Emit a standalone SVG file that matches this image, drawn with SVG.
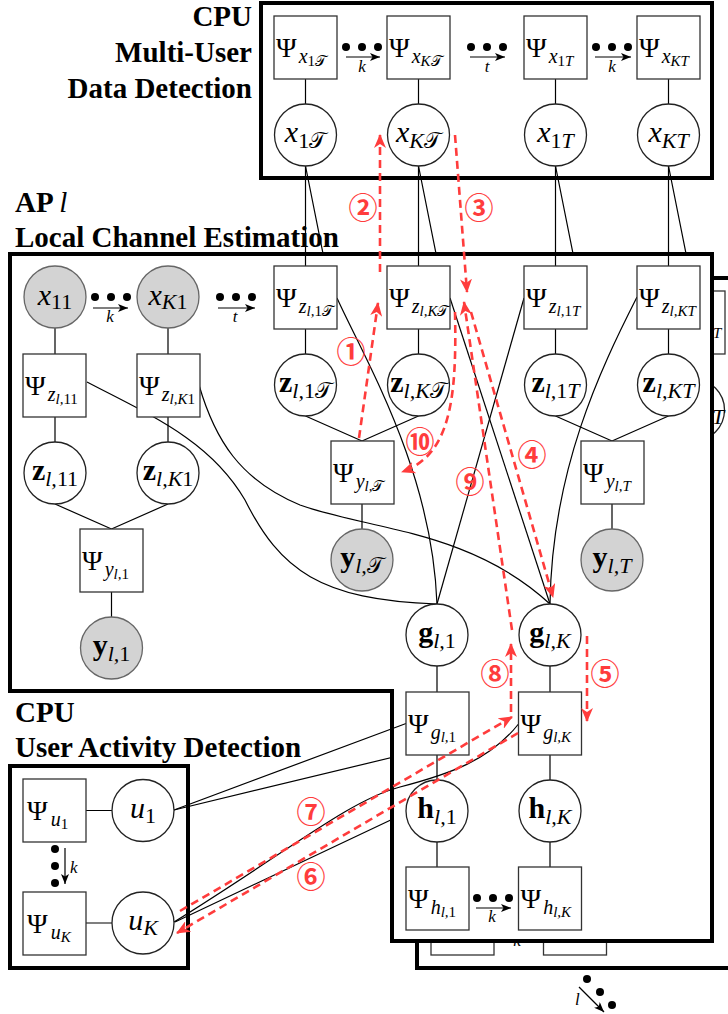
<svg xmlns="http://www.w3.org/2000/svg" width="728" height="1014" viewBox="0 0 728 1014">
<style>
.frame{fill:none;stroke:#000;stroke-width:4}
.apframe{fill:#fff;stroke:#000;stroke-width:4}
.fac{fill:#fff;stroke:#333;stroke-width:1.3}
.var{fill:#fff;stroke:#222;stroke-width:1.3}
.obs{fill:#d3d3d3;stroke:#666;stroke-width:1.3}
.ln{fill:none;stroke:#000;stroke-width:1.2}
.msg{fill:none;stroke:#ff3c3c;stroke-width:2.6;stroke-dasharray:8 5}
.t{font-family:'Liberation Serif','DejaVu Serif',serif;fill:#000}
.ttl{font-family:'Liberation Serif','DejaVu Serif',serif;font-weight:bold;font-size:29px;fill:#000}
.psi{font-size:28px}
.s1{font-size:20px;font-style:italic}
.s2{font-size:15px;font-style:italic}
.v{font-size:30px;font-style:italic}
.vb{font-size:30px;font-weight:bold}
.vs{font-size:22px;font-style:italic;font-weight:normal}
.al{font-size:17px;font-style:italic}
.up{font-style:normal}
.cal{font-style:normal;font-family:'DejaVu Serif','DejaVu Sans','Noto Sans',serif}
.num{font-family:'Noto Sans CJK JP','DejaVu Sans',sans-serif;font-size:29px;font-weight:bold;fill:#ff3c3c}
.dot{fill:#000}
</style>
<defs>
<marker id="ah" viewBox="0 0 10 8" refX="10" refY="4" markerWidth="10" markerHeight="8" markerUnits="userSpaceOnUse" orient="auto"><path d="M0,0 L10,4 L0,8 L2.5,4 Z" fill="#000"/></marker>
<marker id="ra" viewBox="0 0 14 12" refX="13" refY="6" markerWidth="14" markerHeight="12" markerUnits="userSpaceOnUse" orient="auto"><path d="M0,0 L14,6 L0,12 L4,6 Z" fill="#ff3c3c"/></marker>
</defs>

<!-- second AP plate (behind) -->
<g id="ap-behind">
<rect class="apframe" x="417" y="278" width="330" height="690"/>
<rect class="fac" x="662" y="291" width="63" height="63"/>
<text class="t s2" x="713" y="338">T</text>
<circle class="var" cx="693.5" cy="410" r="31"/>
<text class="t vs" x="712" y="424">T</text>
<rect class="fac" x="431" y="892" width="63" height="63"/>
<rect class="fac" x="543.5" y="892" width="63" height="63"/>
<text class="t al" x="517" y="946" text-anchor="middle">k</text>
</g>

<g id="connectors-behind">
<path class="ln" d="M305.5,166 L330.5,291 M418.5,166 L443.5,291 M555.5,166 L580.5,291 M668.5,166 L693.5,291"/>
<path class="ln" d="M174,810 L431,748 M175,922 L543,748"/>
</g>

<g id="ap-plate">
<polygon class="apframe" points="10,254 712,254 712,941 392,941 392,691 10,691"/>
<text class="ttl" x="15" y="212">AP <tspan font-style="italic" font-weight="normal">l</tspan></text>
<text class="ttl" x="15" y="247">Local Channel Estimation</text>
</g>

<g id="cpu-data-plate">
<rect class="frame" x="261" y="3" width="451" height="175"/>
<text class="ttl" x="252" y="26" text-anchor="end">CPU</text>
<text class="ttl" x="252" y="62" text-anchor="end">Multi-User</text>
<text class="ttl" x="252" y="98" text-anchor="end">Data Detection</text>
</g>

<g id="cpu-activity-plate">
<rect class="frame" x="10" y="766" width="178" height="202"/>
<text class="ttl" x="15" y="722">CPU</text>
<text class="ttl" x="15" y="757">User Activity Detection</text>
</g>

<g id="connectors">
<path class="ln" d="M305.5,79 V104 M418.5,79 V104 M555.5,79 V104 M668.5,79 V104"/>
<path class="ln" d="M305.5,166 V266 M418.5,166 V266 M555.5,166 V266 M668.5,166 V266"/>
<path class="ln" d="M305.5,329 V354 M418.5,329 V354 M555.5,329 V354 M668.5,329 V354"/>
<path class="ln" d="M55,328 V354 M168,328 V354 M55,416 V442 M168,416 V442"/>
<path class="ln" d="M55,504 L111.5,529 M168,504 L111.5,529 M111.5,592 V617"/>
<path class="ln" d="M305.5,416 L362,441 M418.5,416 L362,441 M362,504 V529"/>
<path class="ln" d="M555.5,416 L612,441 M668.5,416 L612,441 M612,504 V529"/>
<path class="ln" d="M87,382 C150,415 210,440 245,500 C280,570 320,600 437,604"/>
<path class="ln" d="M337,298 C365,360 432,470 437,604"/>
<path class="ln" d="M524,298 L437,604"/>
<path class="ln" d="M199,385 C215,440 240,480 300,505 C370,530 470,530 550,604"/>
<path class="ln" d="M450,298 L550,604"/>
<path class="ln" d="M637,297 C600,370 552,470 550,604"/>
<path class="ln" d="M437,666 V692 M550,666 V692 M437,755 V780 M550,755 V780 M437,842 V867 M550,842 V867"/>
<path class="ln" d="M86,810.5 H112 M86,923 H112"/>
<path class="ln" d="M174,810 L406,723.5"/>
<path class="ln" d="M174,922 C290,850 350,800 400,787 C450,774 490,760 518.5,724"/>
</g>

<g id="index-arrows">
<circle class="dot" cx="346" cy="47" r="4"/><circle class="dot" cx="362" cy="47" r="4"/><circle class="dot" cx="378" cy="47" r="4"/>
<path class="ln" d="M346,57 H380" marker-end="url(#ah)"/><text class="t al" x="362" y="72" text-anchor="middle">k</text>
<circle class="dot" cx="471" cy="47" r="4"/><circle class="dot" cx="487" cy="47" r="4"/><circle class="dot" cx="503" cy="47" r="4"/>
<path class="ln" d="M470,57 H505" marker-end="url(#ah)"/><text class="t al" x="487" y="72" text-anchor="middle">t</text>
<circle class="dot" cx="596" cy="47" r="4"/><circle class="dot" cx="612" cy="47" r="4"/><circle class="dot" cx="628" cy="47" r="4"/>
<path class="ln" d="M595,57 H631" marker-end="url(#ah)"/><text class="t al" x="612" y="72" text-anchor="middle">k</text>
<circle class="dot" cx="95" cy="297" r="4"/><circle class="dot" cx="111" cy="297" r="4"/><circle class="dot" cx="127" cy="297" r="4"/>
<path class="ln" d="M93,308 H128" marker-end="url(#ah)"/><text class="t al" x="110" y="322" text-anchor="middle">k</text>
<circle class="dot" cx="220" cy="297" r="4"/><circle class="dot" cx="236" cy="297" r="4"/><circle class="dot" cx="252" cy="297" r="4"/>
<path class="ln" d="M218,308 H255" marker-end="url(#ah)"/><text class="t al" x="235" y="322" text-anchor="middle">t</text>
<circle class="dot" cx="477" cy="898" r="4"/><circle class="dot" cx="493" cy="898" r="4"/><circle class="dot" cx="509" cy="898" r="4"/>
<path class="ln" d="M476,908 H511" marker-end="url(#ah)"/><text class="t al" x="492" y="922" text-anchor="middle">k</text>
<circle class="dot" cx="55" cy="849" r="4"/><circle class="dot" cx="55" cy="866" r="4"/><circle class="dot" cx="55" cy="883" r="4"/>
<path class="ln" d="M65,848 V884" marker-end="url(#ah)"/><text class="t al" x="70" y="873">k</text>
<circle class="dot" cx="587" cy="979" r="4"/><circle class="dot" cx="600" cy="992" r="4"/><circle class="dot" cx="612" cy="1005" r="4"/>
<path class="ln" d="M579,987 L604,1012" marker-end="url(#ah)"/><text class="t al" x="575" y="1005">l</text>
</g>

<!-- CPU data detection nodes -->
<g id="psi-x1c"><rect class="fac" x="274" y="16" width="63" height="63"/><text class="t psi" x="276" y="57">Ψ<tspan class="s1" dx="2" dy="6">x</tspan><tspan class="s2 up" dy="3">1</tspan><tspan class="s2 cal">𝒯</tspan></text></g>
<g id="psi-xKc"><rect class="fac" x="387" y="16" width="63" height="63"/><text class="t psi" x="389" y="57">Ψ<tspan class="s1" dx="2" dy="6">x</tspan><tspan class="s2" dy="3">K</tspan><tspan class="s2 cal">𝒯</tspan></text></g>
<g id="psi-x1T"><rect class="fac" x="524" y="16" width="63" height="63"/><text class="t psi" x="526" y="57">Ψ<tspan class="s1" dx="2" dy="6">x</tspan><tspan class="s2 up" dy="3">1</tspan><tspan class="s2">T</tspan></text></g>
<g id="psi-xKT"><rect class="fac" x="637" y="16" width="63" height="63"/><text class="t psi" x="639" y="57">Ψ<tspan class="s1" dx="2" dy="6">x</tspan><tspan class="s2" dy="3">KT</tspan></text></g>
<g id="x1c"><circle class="var" cx="305.5" cy="135" r="31"/><text class="t v" x="305.5" y="142" text-anchor="middle">x<tspan class="vs up" dy="6">1</tspan><tspan class="vs cal">𝒯</tspan></text></g>
<g id="xKc"><circle class="var" cx="418.5" cy="135" r="31"/><text class="t v" x="418.5" y="142" text-anchor="middle">x<tspan class="vs" dy="6">K</tspan><tspan class="vs cal">𝒯</tspan></text></g>
<g id="x1T"><circle class="var" cx="555.5" cy="135" r="31"/><text class="t v" x="555.5" y="142" text-anchor="middle">x<tspan class="vs up" dy="6">1</tspan><tspan class="vs">T</tspan></text></g>
<g id="xKT"><circle class="var" cx="668.5" cy="135" r="31"/><text class="t v" x="668.5" y="142" text-anchor="middle">x<tspan class="vs" dy="6">KT</tspan></text></g>

<!-- AP nodes -->
<g id="x11"><circle class="obs" cx="55" cy="297" r="31"/><text class="t v" x="55" y="305" text-anchor="middle">x<tspan class="vs up" dy="4">11</tspan></text></g>
<g id="xK1"><circle class="obs" cx="168" cy="297" r="31"/><text class="t v" x="168" y="305" text-anchor="middle">x<tspan class="vs" dy="4">K</tspan><tspan class="vs up">1</tspan></text></g>
<g id="psi-zl1c"><rect class="fac" x="274" y="266" width="63" height="63"/><text class="t psi" x="276" y="307">Ψ<tspan class="s1" dx="2" dy="6">z</tspan><tspan class="s2" dy="3">l,</tspan><tspan class="s2 up">1</tspan><tspan class="s2 cal">𝒯</tspan></text></g>
<g id="psi-zlKc"><rect class="fac" x="387" y="266" width="63" height="63"/><text class="t psi" x="389" y="307">Ψ<tspan class="s1" dx="2" dy="6">z</tspan><tspan class="s2" dy="3">l,K</tspan><tspan class="s2 cal">𝒯</tspan></text></g>
<g id="psi-zl1T"><rect class="fac" x="524" y="266" width="63" height="63"/><text class="t psi" x="526" y="307">Ψ<tspan class="s1" dx="2" dy="6">z</tspan><tspan class="s2" dy="3">l,</tspan><tspan class="s2 up">1</tspan><tspan class="s2">T</tspan></text></g>
<g id="psi-zlKT"><rect class="fac" x="637" y="266" width="63" height="63"/><text class="t psi" x="639" y="307">Ψ<tspan class="s1" dx="2" dy="6">z</tspan><tspan class="s2" dy="3">l,KT</tspan></text></g>
<g id="psi-zl11"><rect class="fac" x="23" y="354" width="63" height="63"/><text class="t psi" x="25" y="395">Ψ<tspan class="s1" dx="2" dy="6">z</tspan><tspan class="s2" dy="3">l,</tspan><tspan class="s2 up">11</tspan></text></g>
<g id="psi-zlK1"><rect class="fac" x="137" y="354" width="63" height="63"/><text class="t psi" x="139" y="395">Ψ<tspan class="s1" dx="2" dy="6">z</tspan><tspan class="s2" dy="3">l,K</tspan><tspan class="s2 up">1</tspan></text></g>
<g id="zl1c"><circle class="var" cx="305.5" cy="385" r="31"/><text class="t vb" x="305.5" y="392" text-anchor="middle">z<tspan class="vs" dy="6">l,</tspan><tspan class="vs up">1</tspan><tspan class="vs cal">𝒯</tspan></text></g>
<g id="zlKc"><circle class="var" cx="418.5" cy="385" r="31"/><text class="t vb" x="418.5" y="392" text-anchor="middle">z<tspan class="vs" dy="6">l,K</tspan><tspan class="vs cal">𝒯</tspan></text></g>
<g id="zl1T"><circle class="var" cx="555.5" cy="385" r="31"/><text class="t vb" x="555.5" y="392" text-anchor="middle">z<tspan class="vs" dy="6">l,</tspan><tspan class="vs up">1</tspan><tspan class="vs">T</tspan></text></g>
<g id="zlKT"><circle class="var" cx="668.5" cy="385" r="31"/><text class="t vb" x="668.5" y="392" text-anchor="middle">z<tspan class="vs" dy="6">l,KT</tspan></text></g>
<g id="zl11"><circle class="var" cx="55" cy="473" r="31"/><text class="t vb" x="55" y="480" text-anchor="middle">z<tspan class="vs" dy="6">l,</tspan><tspan class="vs up">11</tspan></text></g>
<g id="zlK1"><circle class="var" cx="168" cy="473" r="31"/><text class="t vb" x="168" y="480" text-anchor="middle">z<tspan class="vs" dy="6">l,K</tspan><tspan class="vs up">1</tspan></text></g>
<g id="psi-yl1"><rect class="fac" x="80" y="529" width="63" height="63"/><text class="t psi" x="82" y="570">Ψ<tspan class="s1" dx="2" dy="6">y</tspan><tspan class="s2" dy="3">l,</tspan><tspan class="s2 up">1</tspan></text></g>
<g id="yl1"><circle class="obs" cx="111.5" cy="648" r="31"/><text class="t vb" x="111.5" y="655" text-anchor="middle">y<tspan class="vs" dy="6">l,</tspan><tspan class="vs up">1</tspan></text></g>
<g id="psi-ylc"><rect class="fac" x="331" y="441" width="63" height="63"/><text class="t psi" x="333" y="482">Ψ<tspan class="s1" dx="2" dy="6">y</tspan><tspan class="s2" dy="3">l,</tspan><tspan class="s2 cal">𝒯</tspan></text></g>
<g id="ylc"><circle class="obs" cx="362" cy="560" r="31"/><text class="t vb" x="362" y="567" text-anchor="middle">y<tspan class="vs" dy="6">l,</tspan><tspan class="vs cal">𝒯</tspan></text></g>
<g id="psi-ylT"><rect class="fac" x="581" y="441" width="63" height="63"/><text class="t psi" x="583" y="482">Ψ<tspan class="s1" dx="2" dy="6">y</tspan><tspan class="s2" dy="3">l,T</tspan></text></g>
<g id="ylT"><circle class="obs" cx="612" cy="560" r="31"/><text class="t vb" x="612" y="567" text-anchor="middle">y<tspan class="vs" dy="6">l,T</tspan></text></g>
<g id="gl1"><circle class="var" cx="437" cy="635" r="31"/><text class="t vb" x="437" y="642" text-anchor="middle">g<tspan class="vs" dy="6">l,</tspan><tspan class="vs up">1</tspan></text></g>
<g id="glK"><circle class="var" cx="550" cy="635" r="31"/><text class="t vb" x="550" y="642" text-anchor="middle">g<tspan class="vs" dy="6">l,K</tspan></text></g>
<g id="psi-gl1"><rect class="fac" x="406" y="692" width="63" height="63"/><text class="t psi" x="408" y="733">Ψ<tspan class="s1" dx="2" dy="6">g</tspan><tspan class="s2" dy="3">l,</tspan><tspan class="s2 up">1</tspan></text></g>
<g id="psi-glK"><rect class="fac" x="518.5" y="692" width="63" height="63"/><text class="t psi" x="520.5" y="733">Ψ<tspan class="s1" dx="2" dy="6">g</tspan><tspan class="s2" dy="3">l,K</tspan></text></g>
<g id="hl1"><circle class="var" cx="437" cy="811" r="31"/><text class="t vb" x="437" y="818" text-anchor="middle">h<tspan class="vs" dy="6">l,</tspan><tspan class="vs up">1</tspan></text></g>
<g id="hlK"><circle class="var" cx="550" cy="811" r="31"/><text class="t vb" x="550" y="818" text-anchor="middle">h<tspan class="vs" dy="6">l,K</tspan></text></g>
<g id="psi-hl1"><rect class="fac" x="406" y="867" width="63" height="63"/><text class="t psi" x="408" y="908">Ψ<tspan class="s1" dx="2" dy="6">h</tspan><tspan class="s2" dy="3">l,</tspan><tspan class="s2 up">1</tspan></text></g>
<g id="psi-hlK"><rect class="fac" x="518.5" y="867" width="63" height="63"/><text class="t psi" x="520.5" y="908">Ψ<tspan class="s1" dx="2" dy="6">h</tspan><tspan class="s2" dy="3">l,K</tspan></text></g>

<!-- CPU activity nodes -->
<g id="psi-u1"><rect class="fac" x="23" y="779" width="63" height="63"/><text class="t psi" x="27" y="820">Ψ<tspan class="s1" dx="3" dy="6">u</tspan><tspan class="s2 up" dy="3">1</tspan></text></g>
<g id="u1"><circle class="var" cx="143" cy="810.5" r="31"/><text class="t v" x="143" y="818" text-anchor="middle">u<tspan class="vs up" dy="5">1</tspan></text></g>
<g id="psi-uK"><rect class="fac" x="23" y="892" width="63" height="63"/><text class="t psi" x="27" y="933">Ψ<tspan class="s1" dx="3" dy="6">u</tspan><tspan class="s2" dy="3">K</tspan></text></g>
<g id="uK"><circle class="var" cx="143" cy="923" r="31"/><text class="t v" x="143" y="930" text-anchor="middle">u<tspan class="vs" dy="5">K</tspan></text></g>

<!-- message passing schedule -->
<g id="messages">
<path class="msg" d="M359,438 L378,303" marker-end="url(#ra)"/>
<path class="msg" d="M380,272 L380,135" marker-end="url(#ra)"/>
<path class="msg" d="M455,135 L467,292" marker-end="url(#ra)"/>
<path class="msg" d="M471,312 L553,597" marker-end="url(#ra)"/>
<path class="msg" d="M587,636 L587,721" marker-end="url(#ra)"/>
<path class="msg" d="M518,733 L177,933" marker-end="url(#ra)"/>
<path class="msg" d="M180,911 L512,717" marker-end="url(#ra)"/>
<path class="msg" d="M511,712 L511,644" marker-end="url(#ra)"/>
<path class="msg" d="M512,630 L464,302" marker-end="url(#ra)"/>
<path class="msg" d="M455,312 C457,400 450,455 402,472" marker-end="url(#ra)"/>
<text class="num" x="351" y="363" text-anchor="middle">①</text>
<text class="num" x="363" y="219" text-anchor="middle">②</text>
<text class="num" x="479" y="219" text-anchor="middle">③</text>
<text class="num" x="532" y="466" text-anchor="middle">④</text>
<text class="num" x="605" y="685" text-anchor="middle">⑤</text>
<text class="num" x="311" y="888" text-anchor="middle">⑥</text>
<text class="num" x="311" y="823" text-anchor="middle">⑦</text>
<text class="num" x="495" y="685" text-anchor="middle">⑧</text>
<text class="num" x="470" y="493" text-anchor="middle">⑨</text>
<text class="num" x="420" y="453" text-anchor="middle">⑩</text>
</g>
</svg>
